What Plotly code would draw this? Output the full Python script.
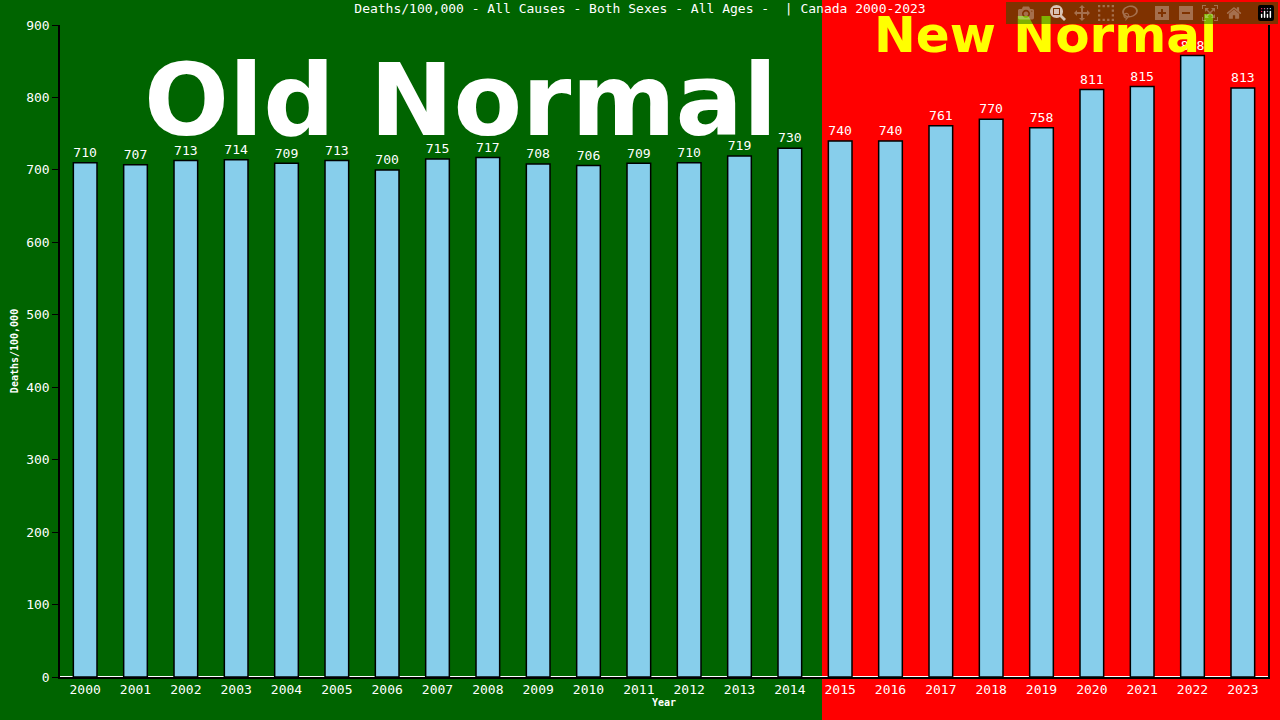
import plotly.graph_objects as go

years = [str(y) for y in range(2000, 2024)]
deaths = [710, 707, 713, 714, 709, 713, 700, 715, 717, 708, 706, 709, 710, 719, 730,
          740, 740, 761, 770, 758, 811, 815, 858, 813]
y_ticks = list(range(0, 1000, 100))

mono = "DejaVu Sans Mono"

fig = go.Figure()
fig.add_trace(go.Bar(
    x=years, y=deaths, width=0.47,
    marker=dict(color="#87ceeb", line=dict(color="black", width=1.5)),
    text=[str(d) for d in deaths], textposition="outside", cliponaxis=False,
    textfont=dict(family=mono, size=14, color="white"),
))

# background panels
split = (822 - 60) / 1208
fig.add_shape(type="rect", xref="paper", yref="paper", x0=-0.06, x1=split, y0=-0.08, y1=1.05,
              fillcolor="#006400", line_width=0, layer="below")
fig.add_shape(type="rect", xref="paper", yref="paper", x0=split, x1=1.05, y0=-0.08, y1=1.05,
              fillcolor="#ff0000", line_width=0, layer="below")

fig.add_annotation(text="<b>Old Normal</b>", x=(460 - 60) / 1208, y=(677 - 100) / 652,
                   xref="paper", yref="paper", xanchor="center", yanchor="middle",
                   showarrow=False, font=dict(family="DejaVu Sans", size=100, color="white"))
fig.add_annotation(text="<b>New Normal</b>", x=(1045 - 60) / 1208, y=(677 - 35) / 652,
                   xref="paper", yref="paper", xanchor="center", yanchor="middle",
                   showarrow=False, font=dict(family="DejaVu Sans", size=50, color="#ffff00"))

fig.update_layout(
    width=1280, height=720,
    margin=dict(l=60, r=12, t=25, b=43),
    paper_bgcolor="#006400", plot_bgcolor="rgba(0,0,0,0)",
    showlegend=False, bargap=0.5,
    title=dict(text="Deaths/100,000 - All Causes - Both Sexes - All Ages -  | Canada 2000-2023",
               x=0.5, xanchor="center", y=0.995, yanchor="top",
               font=dict(family=mono, size=13, color="white")),
    font=dict(family=mono, color="white", size=13),
)
fig.update_xaxes(title=dict(text="<b>Year</b>", font=dict(size=10), standoff=2), automargin=False,
                 showline=True, linecolor="black", linewidth=1.5, ticks="", showgrid=False,
                 tickfont=dict(size=13, color="white"))
fig.update_yaxes(title=dict(text="<b>Deaths/100,000</b>", font=dict(size=10), standoff=6),
                 automargin=False, range=[0, 900], tickvals=y_ticks, showline=True,
                 linecolor="black", linewidth=1.5, mirror=True, ticks="outside", ticklen=6,
                 tickcolor="black", showgrid=False, tickfont=dict(size=13, color="white"))

fig.write_html("out.html")

# drop the browser's default page margin
with open("out.html") as f:
    html = f.read()
html = html.replace("<body>", '<body style="margin:0">', 1)
with open("out.html", "w") as f:
    f.write(html)
